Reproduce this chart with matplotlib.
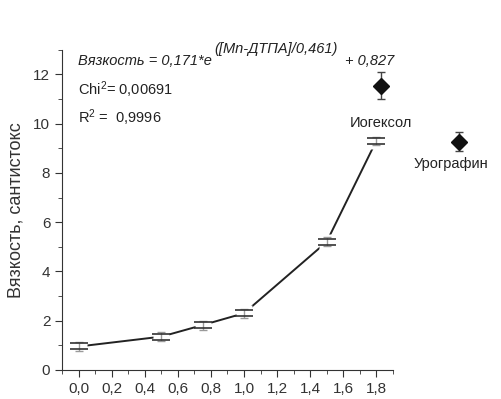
import numpy as np
import matplotlib.pyplot as plt
from matplotlib.path import Path
from matplotlib.ticker import MultipleLocator, FuncFormatter

plt.rcParams['font.family'] = ['Liberation Sans', 'DejaVu Sans']
plt.rcParams['mathtext.fontset'] = 'custom'
plt.rcParams['mathtext.rm'] = 'Liberation Sans'
plt.rcParams['mathtext.it'] = 'Liberation Sans:italic'

# Mn-DTPA concentration vs viscosity
conc = [0.0, 0.5, 0.75, 1.0, 1.5, 1.8]
visc = [0.95, 1.35, 1.82, 2.3, 5.2, 9.3]
visc_err = [0.18, 0.18, 0.18, 0.18, 0.18, 0.18]

# reference contrast agents
ref_names = ['Иогексол', 'Урографин']
ref_x = [1.83, 2.30]
ref_y = [11.55, 9.27]
ref_err = [0.55, 0.38]

fig = plt.figure(figsize=(5.01, 3.99), dpi=100)
ax = fig.add_axes([0.124, 0.073, 0.66, 0.802])

ax.plot(conc, visc, color='#222222', lw=1.4, zorder=1)
# white halo around markers (line gaps)
ax.plot(conc, visc, ls='none', marker='s', ms=12, mfc='white', mec='none', zorder=2)
ax.errorbar(conc, visc, yerr=visc_err, fmt='none', ecolor='#9a9a9a', elinewidth=1,
            capsize=3, capthick=1, zorder=3)
eq_marker = Path([(-1, 0.3), (1, 0.3), (-1, -0.3), (1, -0.3)],
                 [Path.MOVETO, Path.LINETO, Path.MOVETO, Path.LINETO])
ax.plot(conc, visc, ls='none', marker=eq_marker, ms=13, mec='#333333', mew=1.2, zorder=4)

ax.errorbar(ref_x, ref_y, yerr=ref_err, fmt='D', color='#111111', ms=8,
            ecolor='#444444', elinewidth=1, capsize=3, clip_on=False, zorder=5)
ax.text(ref_x[0], ref_y[0] - 1.25, ref_names[0], ha='center', va='top', fontsize=10.5,
        color='#222222', clip_on=False)
ax.text(ref_x[1] - 0.05, ref_y[1] - 0.62, ref_names[1], ha='center', va='top', fontsize=10.5,
        color='#222222', clip_on=False)

ax.set_xlim(-0.1, 1.9)
ax.set_ylim(0, 13)
ax.xaxis.set_major_locator(MultipleLocator(0.2))
ax.xaxis.set_minor_locator(MultipleLocator(0.1))
ax.yaxis.set_major_locator(MultipleLocator(2))
ax.yaxis.set_minor_locator(MultipleLocator(1))
ax.xaxis.set_major_formatter(FuncFormatter(lambda v, p: f'{v:.1f}'.replace('.', ',')))
ax.tick_params(which='both', direction='out', color='#333333', labelcolor='#333333',
               labelsize=11)
ax.tick_params(which='major', length=5)
ax.tick_params(which='minor', length=3)
ax.spines['top'].set_visible(False)
ax.spines['right'].set_visible(False)
for s in ['left', 'bottom']:
    ax.spines[s].set_color('#333333')

ax.set_ylabel('Вязкость, сантистокс', fontsize=13, color='#333333', labelpad=6)

t1 = ax.text(0.048, 0.952, 'Вязкость = 0,171*e', transform=ax.transAxes, fontsize=10.5,
             style='italic', color='#222222')
t2 = ax.annotate('([Mn-ДТПА]/0,461)', xy=(1, 0), xycoords=t1, xytext=(2, 11),
                 textcoords='offset points', fontsize=10.5, style='italic',
                 color='#222222', annotation_clip=False)
ax.annotate('+ 0,827', xy=(1, 0), xycoords=t1, xytext=(96, 2),
            textcoords='offset points', fontsize=10.5, style='italic', color='#222222',
            annotation_clip=False)
ax.text(0.048, 0.86, 'Chi$^2$= 0,00691', transform=ax.transAxes, fontsize=10.5,
        color='#222222')
ax.text(0.048, 0.77, 'R$^2$ =  0,9996', transform=ax.transAxes, fontsize=10.5,
        color='#222222')

fig.savefig('out.png', dpi=100)
